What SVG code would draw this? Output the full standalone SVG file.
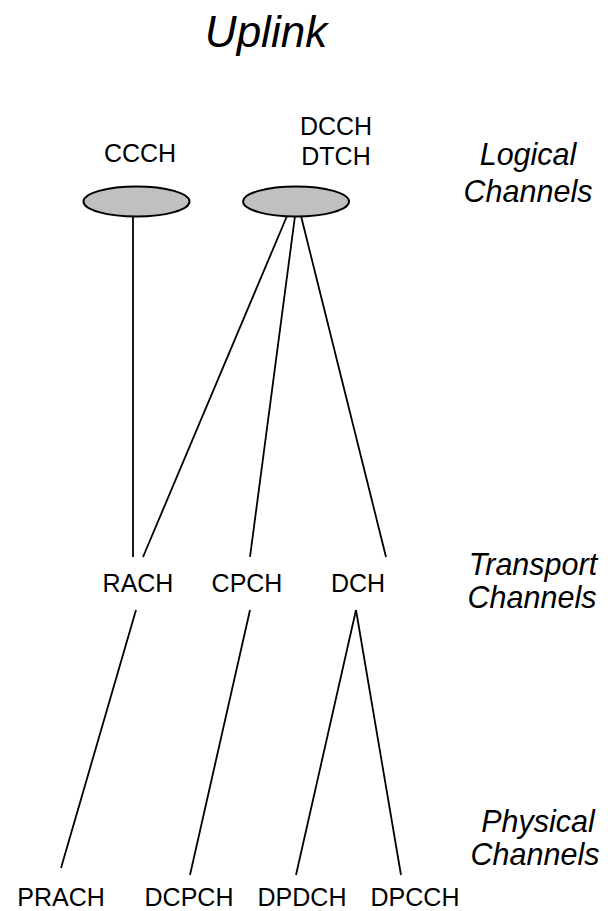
<svg xmlns="http://www.w3.org/2000/svg" width="608" height="911" viewBox="0 0 608 911">
<style>
.t{font-family:"Liberation Sans",Arial,sans-serif;font-size:25px;fill:#000;text-anchor:middle}
.i{font-family:"Liberation Sans",Arial,sans-serif;font-size:30.5px;font-style:italic;fill:#000;text-anchor:middle}
.l{stroke:#000;stroke-width:1.8;fill:none}
.e{fill:#c0c0c0;stroke:#000;stroke-width:2}
</style>
<rect width="608" height="911" fill="#fff"/>
<text class="i" x="266" y="47" style="font-size:44px">Uplink</text>
<g id="labels">
<text class="i" x="528" y="165">Logical</text>
<text class="i" x="528" y="202">Channels</text>
<text class="i" x="533" y="575">Transport</text>
<text class="i" x="532" y="608">Channels</text>
<text class="i" x="538" y="832">Physical</text>
<text class="i" x="535" y="865">Channels</text>
</g>
<g id="connectors">
<line class="l" x1="133" y1="216" x2="133" y2="557"/>
<line class="l" x1="287" y1="216" x2="143" y2="557"/>
<line class="l" x1="295" y1="216" x2="250" y2="557"/>
<line class="l" x1="301" y1="216" x2="386" y2="557"/>
<line class="l" x1="136" y1="610" x2="61" y2="868"/>
<line class="l" x1="250" y1="610" x2="190" y2="875"/>
<line class="l" x1="356" y1="610" x2="296" y2="875"/>
<line class="l" x1="356" y1="610" x2="401" y2="875"/>
</g>
<g id="ccch">
<ellipse class="e" cx="136.5" cy="201.5" rx="53" ry="15"/>
<text class="t" x="140" y="162">CCCH</text>
</g>
<g id="dcch-dtch">
<ellipse class="e" cx="296" cy="201.5" rx="53" ry="15"/>
<text class="t" x="336" y="135">DCCH</text>
<text class="t" x="336" y="165">DTCH</text>
</g>
<g id="rach"><text class="t" x="138" y="592">RACH</text></g>
<g id="cpch"><text class="t" x="247" y="592">CPCH</text></g>
<g id="dch"><text class="t" x="358" y="592">DCH</text></g>
<g id="prach"><text class="t" x="61" y="906">PRACH</text></g>
<g id="dcpch"><text class="t" x="189" y="906">DCPCH</text></g>
<g id="dpdch"><text class="t" x="302" y="906">DPDCH</text></g>
<g id="dpcch"><text class="t" x="415" y="906">DPCCH</text></g>
</svg>
